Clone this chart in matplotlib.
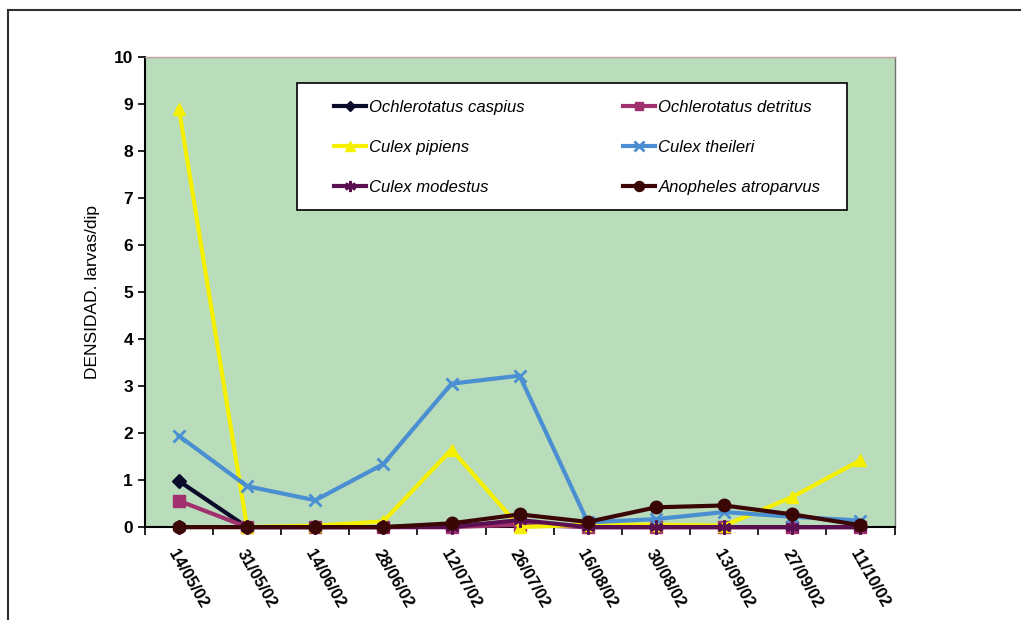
import matplotlib.pyplot as plt
from matplotlib.lines import Line2D
from matplotlib.patches import Rectangle

plt.rcParams['font.family'] = ['Liberation Sans', 'DejaVu Sans']

fechas = ["14/05/02", "31/05/02", "14/06/02", "28/06/02", "12/07/02", "26/07/02",
          "16/08/02", "30/08/02", "13/09/02", "27/09/02", "11/10/02"]

oc_caspius = [0.98, 0, 0, 0, 0.03, 0.10, 0, 0, 0, 0, 0]
oc_detritus = [0.56, 0, 0, 0, 0, 0.05, 0, 0, 0, 0, 0]
cx_pipiens = [8.9, 0, 0.03, 0.12, 1.65, 0, 0.05, 0.05, 0.03, 0.64, 1.42]
cx_theileri = [1.94, 0.87, 0.57, 1.34, 3.05, 3.22, 0.10, 0.17, 0.32, 0.22, 0.14]
cx_modestus = [0, 0, 0, 0, 0, 0.15, 0, 0, 0, 0, 0]
an_atroparvus = [0, 0, 0, 0, 0.08, 0.27, 0.11, 0.42, 0.46, 0.27, 0.04]

series = [
    ("Ochlerotatus caspius", oc_caspius, "#0a0a2a", "D", 7),
    ("Ochlerotatus detritus", oc_detritus, "#a0306e", "s", 8),
    ("Culex pipiens", cx_pipiens, "#f5f000", "^", 9),
    ("Culex theileri", cx_theileri, "#4a8fd2", "x", 9),
    ("Culex modestus", cx_modestus, "#5a1050", (6, 2, 0), 10),
    ("Anopheles atroparvus", an_atroparvus, "#3a0606", "o", 9),
]

fig = plt.figure(figsize=(10.27, 6.32), dpi=100)
ax = fig.add_axes([0.141, 0.166, 0.730, 0.744])
ax.set_facecolor("#b9dcba")

x = list(range(len(fechas)))
handles = {}
for nombre, vals, color, marca, ms in series:
    mew = 2 if marca in ("x", (6, 2, 0)) else 1
    ax.plot(x, vals, color=color, lw=3, marker=marca, ms=ms, mew=mew,
            mec=color, mfc=color, clip_on=False, zorder=3)
    handles[nombre] = Line2D([], [], color=color, lw=3, marker=marca, ms=ms * 0.8,
                             mew=mew, mec=color, mfc=color)

ax.set_xlim(-0.5, len(fechas) - 0.5)
ax.set_ylim(0, 10)
ax.set_yticks(range(0, 11))
ax.set_xticks(x)
ax.set_xticklabels(fechas, rotation=-60, ha="left", va="top",
                   rotation_mode="anchor", fontsize=12, fontweight="bold")
ax.set_xticks([i - 0.5 for i in range(len(fechas) + 1)], minor=True)
ax.tick_params(axis="x", which="major", length=0, pad=14)
ax.tick_params(axis="x", which="minor", length=6, width=1.2, direction="out")
ax.tick_params(axis="y", length=5, width=1.2, labelsize=12.5)
for t in ax.get_yticklabels():
    t.set_fontweight("bold")

ax.spines["top"].set_color("#c0a0a0")
ax.spines["top"].set_linewidth(1)
ax.spines["right"].set_color("#707070")
ax.spines["right"].set_linewidth(1)
ax.spines["left"].set_linewidth(1.5)
ax.spines["bottom"].set_linewidth(1.5)

ax.set_ylabel("DENSIDAD. larvas/dip", fontsize=12.5, labelpad=10)

# caja blanca de la leyenda
ax.add_patch(Rectangle((0.203, 0.675), 0.733, 0.270, transform=ax.transAxes,
                       facecolor="white", edgecolor="black", lw=1.2, zorder=4,
                       clip_on=False))

# leyenda en dos columnas, leida por filas
orden = ["Ochlerotatus caspius", "Culex pipiens", "Culex modestus",
         "Ochlerotatus detritus", "Culex theileri", "Anopheles atroparvus"]
leg = ax.legend([handles[n] for n in orden], orden, ncol=2, loc="upper left",
                bbox_to_anchor=(0.253, 0.909), borderaxespad=0, borderpad=0,
                frameon=False, prop={"style": "italic", "size": 12},
                handlelength=1.9, handletextpad=0.2, labelspacing=1.5,
                columnspacing=5.9)
leg.set_zorder(5)

# borde exterior del grafico
fig.add_artist(Line2D([0.008, 0.993], [0.984, 0.984], color="#303030", lw=1.5,
                      transform=fig.transFigure))
fig.add_artist(Line2D([0.008, 0.008], [0.02, 0.984], color="#303030", lw=1.5,
                      transform=fig.transFigure))

fig.savefig("out.png", dpi=100)
